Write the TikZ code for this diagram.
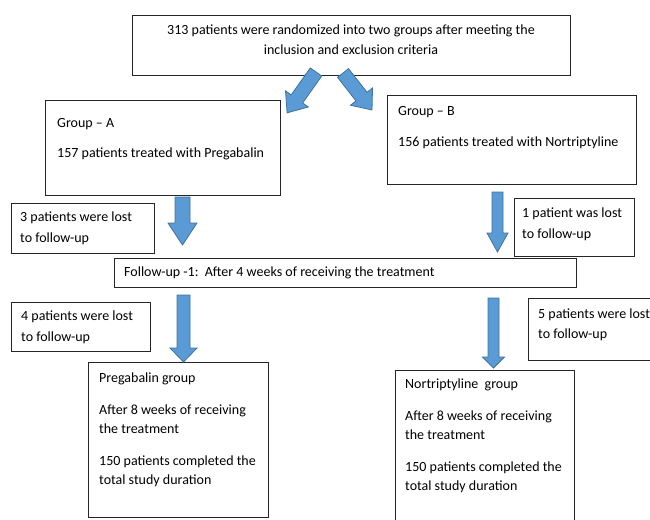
\documentclass[tikz,border=0pt]{standalone}
\usepackage{fontspec}
\setmainfont{Carlito}
\definecolor{arrfill}{RGB}{91,155,213}
\definecolor{arrline}{RGB}{65,113,156}
\newcommand\barrow[6]{%
  \begin{scope}[shift={#1},rotate=#2]
    \filldraw[arrsty] (0,-#4) -- ({#3-#6},-#4) -- ({#3-#6},-#5) -- (#3,0)
      -- ({#3-#6},#5) -- ({#3-#6},#4) -- (0,#4) -- cycle;
  \end{scope}}
\begin{document}
\begin{tikzpicture}[x=1pt,y=-1pt,
  box/.style={draw=black!85,line width=0.9pt,rectangle,anchor=north west,inner sep=0pt},
  txt/.style={anchor=base west,inner sep=0pt,font=\fontsize{14}{16}\selectfont},
  ctxt/.style={anchor=base,inner sep=0pt,font=\fontsize{14}{16}\selectfont},
  arrsty/.style={fill=arrfill,draw=arrline,line width=0.8pt}]
\useasboundingbox (0,0) rectangle (650,519);
% boxes
\node[box,minimum width=438pt,minimum height=60pt] (top) at (132,15) {};
\node[box,minimum width=235pt,minimum height=95pt] (ga) at (45,100) {};
\node[box,minimum width=249pt,minimum height=89pt] (gb) at (387,95) {};
\node[box,minimum width=143pt,minimum height=50pt] (l1) at (11,203) {};
\node[box,minimum width=120pt,minimum height=58pt] (l2) at (514,198) {};
\node[box,minimum width=462pt,minimum height=29pt] (fu) at (114,258) {};
\node[box,minimum width=139pt,minimum height=49pt] (l3) at (11,302) {};
\node[box,minimum width=140pt,minimum height=62pt] (l4) at (528,298) {};
\node[box,minimum width=180pt,minimum height=155pt] (pg) at (88,362) {};
\node[box,minimum width=179pt,minimum height=160pt] (ng) at (395,370) {};
% arrows
\coordinate (a1) at (316,72);
\coordinate (a2) at (343,73);
\coordinate (a3) at (182.5,197);
\coordinate (a4) at (497.5,192);
\coordinate (a5) at (183.5,295);
\coordinate (a6) at (493.5,298);
\barrow{(a1)}{-125.3}{50}{7}{14}{17}
\barrow{(a2)}{-51.9}{47}{7}{14}{17}
\barrow{(a3)}{-90}{48}{7.5}{14.5}{22}
\barrow{(a4)}{-90}{60}{5.5}{10.5}{19}
\barrow{(a5)}{-90}{67}{6.5}{13.5}{14}
\barrow{(a6)}{-90}{70}{5.5}{11}{11}
% texts
\node[ctxt] (t1) at (351,35) {313 patients were randomized into two groups after meeting the};
\node[ctxt] (t2) at (351,55) {inclusion and exclusion criteria};
\node[txt] (t3) at (57,127) {Group -- A};
\node[txt] (t4) at (57,157) {157 patients treated with Pregabalin};
\node[txt] (t5) at (398,115) {Group -- B};
\node[txt] (t6) at (398,146) {156 patients treated with Nortriptyline};
\node[txt] (t7) at (20,221) {3 patients were lost};
\node[txt] (t8) at (20,242) {to follow-up};
\node[txt] (t9) at (522,217) {1 patient was lost};
\node[txt] (t10) at (522,238) {to follow-up};
\node[txt] (t11) at (124,276) {Follow-up -1:\ \ After 4 weeks of receiving the treatment};
\node[txt] (t12) at (21,320) {4 patients were lost};
\node[txt] (t13) at (21,341) {to follow-up};
\node[txt] (t14) at (538,318) {5 patients were lost};
\node[txt] (t15) at (538,338) {to follow-up};
\node[txt] (t16) at (99,382) {Pregabalin group};
\node[txt] (t17) at (99,414) {After 8 weeks of receiving};
\node[txt] (t18) at (99,433) {the treatment};
\node[txt] (t19) at (99,465) {150 patients completed the};
\node[txt] (t20) at (99,484) {total study duration};
\node[txt] (t21) at (405,388) {Nortriptyline\ \ group};
\node[txt] (t22) at (405,420) {After 8 weeks of receiving};
\node[txt] (t23) at (405,439) {the treatment};
\node[txt] (t24) at (405,471) {150 patients completed the};
\node[txt] (t25) at (405,490) {total study duration};
\end{tikzpicture}
\end{document}
